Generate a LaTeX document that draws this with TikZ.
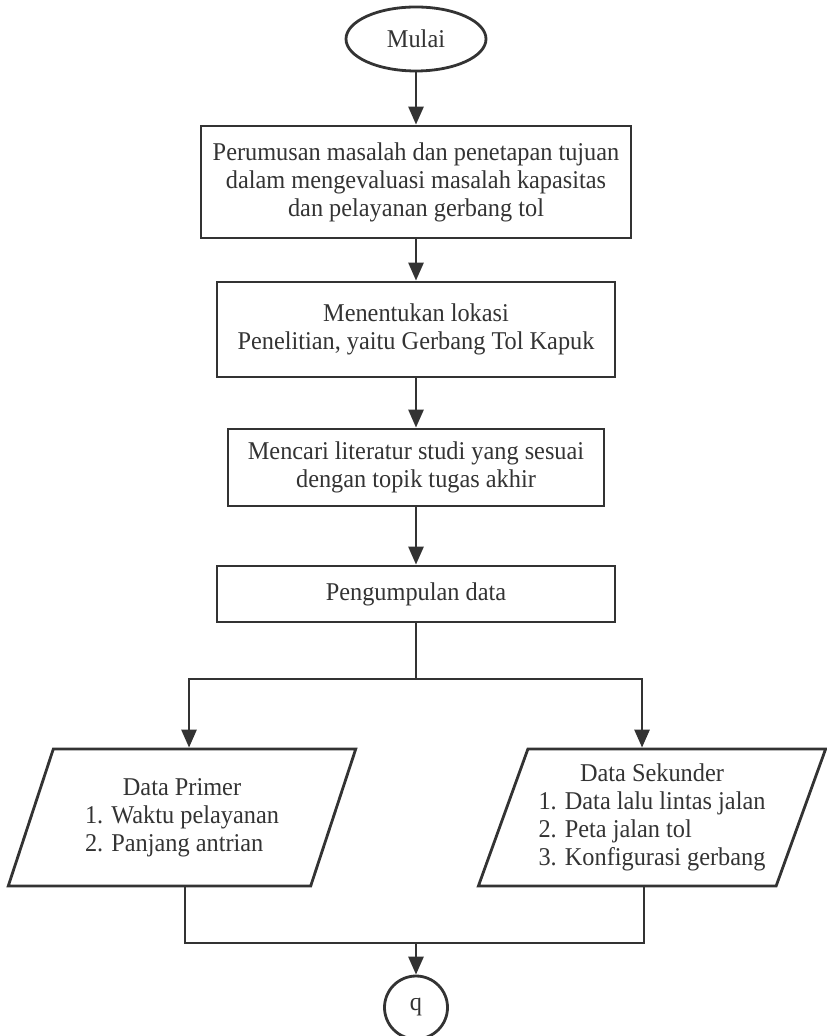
\documentclass[tikz,border=0pt]{standalone}
\usepackage{fontspec}
\setmainfont{Liberation Serif}[FakeStretch=0.95]
\usetikzlibrary{shapes.geometric,arrows.meta}
\definecolor{inkgray}{HTML}{333333}

\begin{document}
\begin{tikzpicture}[x=0.5pt, y=-0.5pt,
    every node/.style={font=\fontsize{12.8}{14}\selectfont, text=inkgray, align=center},
    link/.style={draw=inkgray, line width=1.4pt},
    flow/.style={link, -{Triangle[length=9pt, width=7.5pt]}},
    procbox/.style={link, rectangle, inner sep=0pt},
    termbox/.style={link, inner sep=0pt},
    databox/.style={link, trapezium, trapezium left angle=68, trapezium right angle=112,
      trapezium stretches=true, inner sep=0pt, minimum width=174pt, minimum height=68.5pt}]
  \useasboundingbox (0,0) rectangle (826,1036);

  % start and process steps
  \node[termbox, ellipse, minimum width=70pt, minimum height=32pt] (mulai) at (416,39) {Mulai};
  \node[procbox, minimum width=215pt, minimum height=56pt] (rumusan) at (416,182)
    {Perumusan masalah dan penetapan tujuan\\dalam mengevaluasi masalah kapasitas\\dan pelayanan gerbang tol};
  \node[procbox, minimum width=199pt, minimum height=47.5pt] (lokasi) at (416,329.5)
    {Menentukan lokasi\\Penelitian, yaitu Gerbang Tol Kapuk};
  \node[procbox, minimum width=188pt, minimum height=38.5pt] (literatur) at (416,467.5)
    {Mencari literatur studi yang sesuai\\dengan topik tugas akhir};
  \node[procbox, minimum width=199pt, minimum height=28pt] (kumpul) at (416,594) {Pengumpulan data};

  % data inputs
  \node[databox] (primer) at (182,817.5)
    {\begin{tabular}{@{}l@{}}\multicolumn{1}{@{}c@{}}{Data Primer}\\1. Waktu pelayanan\\2. Panjang antrian\end{tabular}};
  \node[databox] (sekunder) at (652,817.5)
    {\begin{tabular}{@{}l@{}}\multicolumn{1}{@{}c@{}}{Data Sekunder}\\1. Data lalu lintas jalan\\2. Peta jalan tol\\3. Konfigurasi gerbang\end{tabular}};

  % off-page connector
  \node[termbox, circle, minimum size=31.5pt] (q) at (416,1007.5) {q};

  % main flow
  \draw[flow] (mulai) -- (rumusan);
  \draw[flow] (rumusan) -- (lokasi);
  \draw[flow] (lokasi) -- (literatur);
  \draw[flow] (literatur) -- (kumpul);

  % split to both data inputs
  \coordinate (split) at (416,679);
  \draw[link] (kumpul) -- (split);
  \draw[flow] (split) -| ([xshift=3.5pt]primer.north);
  \draw[flow] (split) -| ([xshift=-5pt]sekunder.north);

  % merge into connector
  \coordinate (merge) at (416,943);
  \draw[link] ([xshift=1.5pt]primer.south) |- (merge);
  \draw[link] ([xshift=-4pt]sekunder.south) |- (merge);
  \draw[flow] (merge) -- (q);
\end{tikzpicture}
\end{document}
